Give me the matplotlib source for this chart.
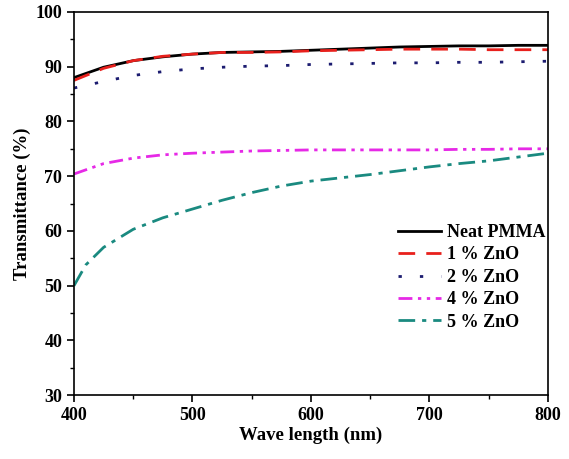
import matplotlib
matplotlib.use("Agg")
import matplotlib.pyplot as plt
from matplotlib.ticker import MultipleLocator

plt.rcParams['font.family'] = ['Liberation Serif', 'DejaVu Serif']
plt.rcParams['font.weight'] = 'bold'

wavelength = [400, 425, 450, 475, 500, 525, 550, 575, 600, 625, 650, 675, 700, 725, 750, 775, 800]
neat_pmma = [88.0, 89.9, 91.1, 91.8, 92.3, 92.6, 92.7, 92.8, 93.0, 93.2, 93.4, 93.6, 93.7, 93.8, 93.8, 93.9, 93.9]
zno_1 = [87.5, 89.7, 91.1, 91.9, 92.3, 92.6, 92.6, 92.7, 92.9, 93.0, 93.1, 93.2, 93.2, 93.2, 93.1, 93.1, 93.1]
zno_2 = [86.1, 87.3, 88.4, 89.1, 89.6, 89.9, 90.1, 90.2, 90.4, 90.5, 90.6, 90.7, 90.7, 90.8, 90.8, 90.9, 91.0]
zno_4 = [70.4, 72.3, 73.3, 73.9, 74.2, 74.4, 74.6, 74.7, 74.8, 74.8, 74.8, 74.8, 74.8, 74.9, 74.9, 75.0, 75.0]
wavelength_5 = [400, 410, 425, 450, 475, 500, 525, 550, 575, 600, 625, 650, 675, 700, 725, 750, 775, 800]
zno_5 = [50.0, 53.8, 57.0, 60.3, 62.4, 64.0, 65.6, 67.0, 68.2, 69.1, 69.7, 70.3, 71.0, 71.7, 72.3, 72.8, 73.5, 74.2]

labels = ["Neat PMMA", "1 % ZnO", "2 % ZnO", "4 % ZnO", "5 % ZnO"]

fig = plt.figure(figsize=(5.69, 4.59), dpi=100)
ax = fig.add_axes([0.130, 0.139, 0.833, 0.835])

ax.plot(wavelength, neat_pmma, color='black', lw=2.0, label=labels[0])
ax.plot(wavelength, zno_1, color='#e8201c', lw=2.0, dashes=(6, 4), label=labels[1])
ax.plot(wavelength, zno_2, color='#1c1c70', lw=2.0, dashes=(1.2, 6.5), label=labels[2])
ax.plot(wavelength, zno_4, color='#e629e6', lw=2.0, dashes=(5, 2, 1.2, 2, 1.2, 2), label=labels[3])
ax.plot(wavelength_5, zno_5, color='#1a8a80', lw=2.0, dashes=(6, 2.5, 1.5, 2.5), label=labels[4])

ax.set_xlim(400, 800)
ax.set_ylim(30, 100)
ax.xaxis.set_major_locator(MultipleLocator(100))
ax.xaxis.set_minor_locator(MultipleLocator(50))
ax.yaxis.set_major_locator(MultipleLocator(10))
ax.yaxis.set_minor_locator(MultipleLocator(5))
ax.tick_params(which='major', direction='out', length=5, width=1.2, labelsize=13)
ax.tick_params(which='minor', direction='out', length=3, width=1.0)
for lab in ax.get_xticklabels() + ax.get_yticklabels():
    lab.set_fontweight('bold')
for s in ax.spines.values():
    s.set_linewidth(1.2)

ax.set_xlabel("Wave length (nm)", fontsize=13.5, fontweight='bold', labelpad=2)
ax.set_ylabel("Transmittance (%)", fontsize=13.5, fontweight='bold', labelpad=3)

leg = ax.legend(loc='lower right', bbox_to_anchor=(1.017, 0.14), frameon=False,
                prop={'size': 13, 'weight': 'bold'}, handlelength=2.4,
                handletextpad=0.3, labelspacing=0.3, borderaxespad=0.2)

fig.savefig("out.png", dpi=100)
